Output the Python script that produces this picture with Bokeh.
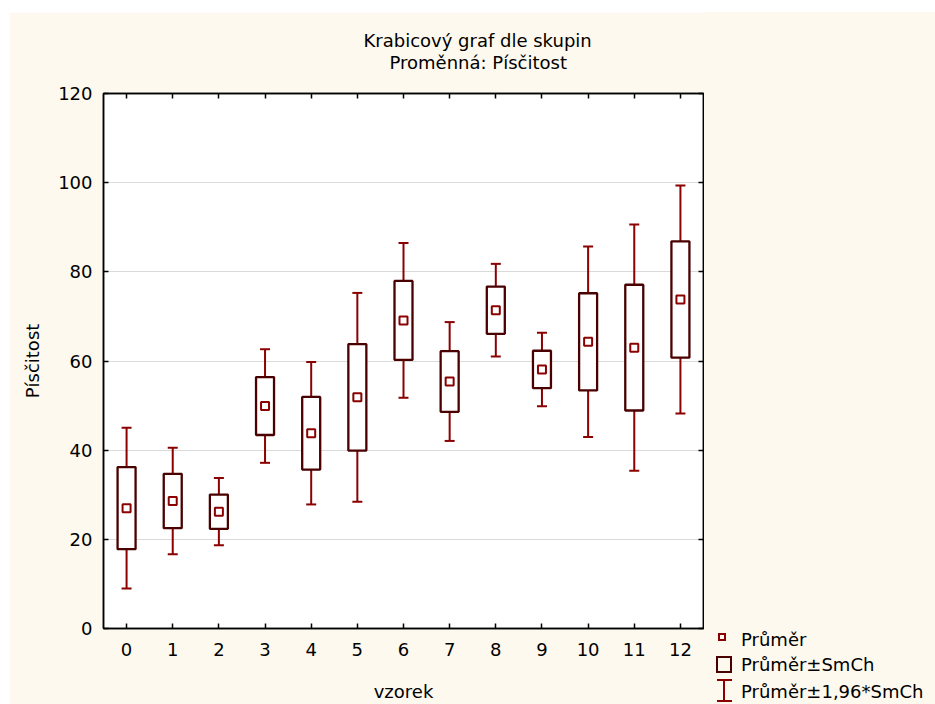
from bokeh.plotting import figure
from bokeh.models import (ColumnDataSource, FactorRange, Range1d, CategoricalAxis,
                          LinearAxis, FixedTicker, Title, Div)
from bokeh.layouts import row
from bokeh.embed import file_html
from bokeh.resources import INLINE

# Groups (sample number), group means and standard errors of the mean
groups = ["0", "1", "2", "3", "4", "5", "6", "7", "8", "9", "10", "11", "12"]
means = [27.0, 28.6, 26.2, 49.9, 43.8, 51.85, 69.1, 55.4, 71.4, 58.1, 64.3, 63.0, 73.8]
std_err = [9.2, 6.1, 3.85, 6.5, 8.15, 11.95, 8.85, 6.8, 5.3, 4.2, 10.9, 14.1, 13.05]
y_ticks = [0, 20, 40, 60, 80, 100, 120]
legend_labels = ["Průměr", "Průměr±SmCh", "Průměr±1,96*SmCh"]

FONT = "DejaVu Sans"
FS = "18px"
CREAM = "#fdf9ee"
BOX_COLOR = "#4a0000"
RED = "#8b0000"

src = ColumnDataSource(dict(
    g=groups,
    mean=means,
    se_lo=[m - s for m, s in zip(means, std_err)],
    se_hi=[m + s for m, s in zip(means, std_err)],
    ci_lo=[m - 1.96 * s for m, s in zip(means, std_err)],
    ci_hi=[m + 1.96 * s for m, s in zip(means, std_err)],
))

p = figure(x_range=FactorRange(*groups), y_range=Range1d(0, 120),
           width=697, height=692, output_backend="svg", toolbar_location=None,
           title_location=None,
           min_border_left=94, min_border_right=3, min_border_top=81, min_border_bottom=74,
           background_fill_color="white", border_fill_color=CREAM,
           outline_line_color="black", outline_line_width=1.5)
p.margin = (12, 0, 0, 9)

p.xgrid.visible = False
p.ygrid.grid_line_color = "#dadada"
p.ygrid.grid_line_width = 1
p.ygrid.ticker = FixedTicker(ticks=y_ticks)


def style_axis(ax, show_labels=True):
    ax.axis_line_color = "black"
    ax.axis_line_width = 1.5
    ax.major_tick_in = 5
    ax.major_tick_out = 0
    ax.major_tick_line_color = "black"
    ax.major_tick_line_width = 1.5
    ax.minor_tick_line_color = None
    ax.major_label_text_font = FONT
    if show_labels:
        ax.major_label_text_font_size = FS
        ax.major_label_text_color = "black"
    else:
        # tick marks only on the top / right edges
        ax.major_label_text_font_size = "1px"
        ax.major_label_text_color = None
        ax.major_label_standoff = 0


style_axis(p.xaxis[0])
p.xaxis.major_label_standoff = 14
p.xaxis.axis_label = "vzorek"
p.xaxis.axis_label_standoff = 22
p.xaxis.axis_label_text_font = FONT
p.xaxis.axis_label_text_font_size = FS
p.xaxis.axis_label_text_font_style = "normal"
p.xaxis.axis_label_text_color = "black"

style_axis(p.yaxis[0])
p.yaxis.ticker = FixedTicker(ticks=y_ticks)
p.yaxis.major_label_standoff = 11
p.yaxis.axis_label = "Písčitost"
p.yaxis.axis_label_standoff = 12
p.yaxis.axis_label_text_font = FONT
p.yaxis.axis_label_text_font_size = FS
p.yaxis.axis_label_text_font_style = "normal"
p.yaxis.axis_label_text_color = "black"

top_axis = CategoricalAxis()
style_axis(top_axis, show_labels=False)
p.add_layout(top_axis, "above")

right_axis = LinearAxis(ticker=FixedTicker(ticks=y_ticks))
style_axis(right_axis, show_labels=False)
p.add_layout(right_axis, "right")

# Two-line heading (the inner title is added first)
p.add_layout(Title(text="Proměnná: Písčitost", align="left", offset=286,
                   text_font=FONT, text_font_size=FS, text_font_style="normal",
                   text_color="black", standoff=41), "above")
p.add_layout(Title(text="Krabicový graf dle skupin", align="left", offset=260,
                   text_font=FONT, text_font_size=FS, text_font_style="normal",
                   text_color="black", standoff=-42), "above")

# mean ± 1.96*SE whiskers with caps
p.segment(x0="g", y0="ci_lo", x1="g", y1="ci_hi", source=src,
          line_color=RED, line_width=2)
p.scatter(x="g", y="ci_lo", source=src, marker="dash", size=10,
          line_color=RED, line_width=2)
p.scatter(x="g", y="ci_hi", source=src, marker="dash", size=10,
          line_color=RED, line_width=2)

# mean ± SE boxes
p.vbar(x="g", bottom="se_lo", top="se_hi", width=0.39, source=src,
       fill_color="white", line_color=BOX_COLOR, line_width=2.3)

# means
p.scatter(x="g", y="mean", source=src, marker="square", size=8,
          fill_color="white", line_color=RED, line_width=2)


# Legend panel to the right of the plot
def shape(left, top, w, h, style):
    return (f'<div style="position:absolute;left:{left}px;top:{top}px;width:{w}px;'
            f'height:{h}px;box-sizing:border-box;{style}"></div>')


def caption(text, center_y):
    return (f'<div style="position:absolute;left:37px;top:{center_y - 11}px;height:22px;'
            f'line-height:22px;font-family:\'{FONT}\';font-size:{FS};color:black;'
            f'white-space:nowrap">{text}</div>')


legend_html = (
    f'<div style="position:relative;width:231px;height:692px;background:{CREAM};'
    f'margin:0;padding:0;overflow:hidden">'
    + shape(14, 621, 8, 8, f"border:2px solid {RED}")
    + shape(12, 644, 16, 17, f"border:2px solid {BOX_COLOR}")
    + shape(19, 667, 2, 23, f"background:{RED}")
    + shape(13, 667, 15, 2, f"background:{RED}")
    + shape(13, 688, 15, 2, f"background:{RED}")
    + caption(legend_labels[0], 628)
    + caption(legend_labels[1], 653)
    + caption(legend_labels[2], 680)
    + '</div>'
)
# overlaps the plot's right border by 2 px so no seam shows between the two
legend = Div(text=legend_html, width=231, height=692, margin=(12, 0, 0, -2))

layout = row(p, legend)
open("out.html", "w").write(file_html(layout, INLINE))
